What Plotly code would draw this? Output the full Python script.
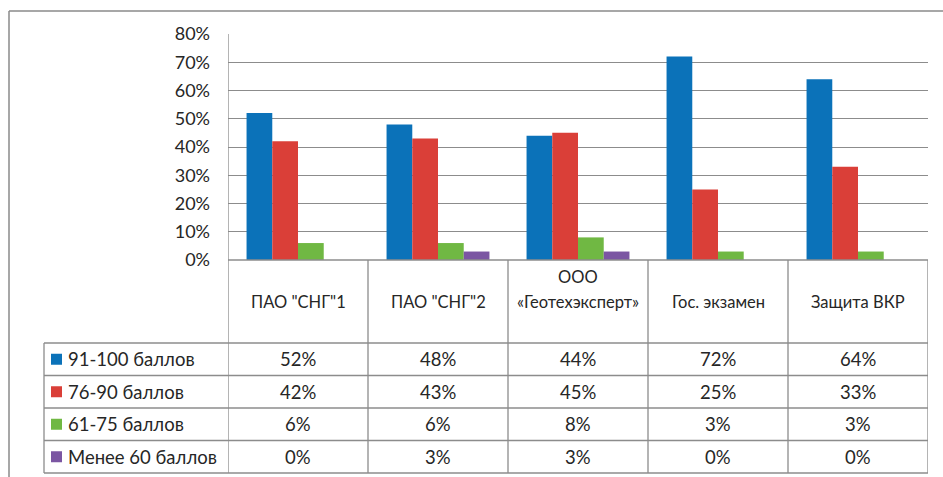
import plotly.graph_objects as go

categories = ['ПАО "СНГ"1', 'ПАО "СНГ"2', 'ООО\n«Геотехэксперт»', 'Гос. экзамен', 'Защита ВКР']
series_names = ['91-100 баллов', '76-90 баллов', '61-75 баллов', 'Менее 60 баллов']
s1 = [52, 48, 44, 72, 64]
s2 = [42, 43, 45, 25, 33]
s3 = [6, 6, 8, 3, 3]
s4 = [0, 3, 3, 0, 0]
series_values = [s1, s2, s3, s4]
colors = ['#0B72B9', '#DA3F38', '#70B843', '#7B56A2']
y_ticks = [0, 10, 20, 30, 40, 50, 60, 70, 80]

W, H = 943, 477
L, R, T, B = 228, 15, 34, 217
PW, PH = W - L - R, H - T - B
FONT = 'Lato, Carlito, Calibri, sans-serif'
LINE = '#8c8c8c'
TXT = '#262626'


def px(xp):
    return (xp - L) / PW


def py(yp):
    return (T + PH - yp) / PH


fig = go.Figure()
for name, vals, col in zip(series_names, series_values, colors):
    fig.add_trace(go.Bar(x=list(range(len(categories))), y=vals, name=name,
                         marker=dict(color=col, line=dict(width=0))))

shapes = []
annotations = []
n = len(categories)
header_bottom = 343
row_h = 32.5
table_bottom = header_bottom + row_h * len(series_names)
legend_left = 44

# outer frame
shapes.append(dict(type='line', xref='paper', yref='paper', x0=px(9), x1=px(W + 5), y0=py(11), y1=py(11),
                   line=dict(color='#8a8a8a', width=1.5)))
shapes.append(dict(type='line', xref='paper', yref='paper', x0=px(9), x1=px(9), y0=py(11), y1=py(H + 5),
                   line=dict(color='#8a8a8a', width=1.5)))

# table vertical lines
for i in range(n + 1):
    x = i - 0.5
    y_top = py(T) if i == 0 else 0
    shapes.append(dict(type='line', xref='x', yref='paper', x0=x, x1=x, y0=y_top, y1=py(table_bottom),
                       line=dict(color=LINE, width=1.3)))
shapes.append(dict(type='line', xref='paper', yref='paper', x0=px(legend_left), x1=px(legend_left),
                   y0=py(header_bottom), y1=py(table_bottom), line=dict(color=LINE, width=1.3)))
# table horizontal lines
shapes.append(dict(type='line', xref='paper', yref='paper', x0=0, x1=1, y0=0, y1=0,
                   line=dict(color=LINE, width=1.3)))
for r in range(len(series_names) + 1):
    yy = header_bottom + r * row_h
    shapes.append(dict(type='line', xref='paper', yref='paper', x0=px(legend_left), x1=1, y0=py(yy), y1=py(yy),
                       line=dict(color=LINE, width=1.3)))

# category headers
for i, cat in enumerate(categories):
    lines = cat.split('\n')
    base = 302
    for k, ln in enumerate(lines):
        yy = base - 25 * (len(lines) - 1 - k)
        annotations.append(dict(x=i, y=py(yy), xref='x', yref='paper', text=ln, showarrow=False,
                                font=dict(family=FONT, size=16.5, color=TXT), xanchor='center', yanchor='middle'))

# rows
for r, (name, vals, col) in enumerate(zip(series_names, series_values, colors)):
    yc = header_bottom + r * row_h + row_h / 2
    shapes.append(dict(type='rect', xref='paper', yref='paper', x0=px(51), x1=px(62), y0=py(yc - 5.5), y1=py(yc + 5.5),
                       fillcolor=col, line=dict(width=0)))
    annotations.append(dict(x=px(66), y=py(yc), xref='paper', yref='paper', text=name, showarrow=False,
                            font=dict(family=FONT, size=18.5, color=TXT), xanchor='left', yanchor='middle'))
    for i, v in enumerate(vals):
        annotations.append(dict(x=i, y=py(yc), xref='x', yref='paper', text=f'{v}%', showarrow=False,
                                font=dict(family=FONT, size=18.5, color=TXT), xanchor='center', yanchor='middle'))

fig.update_layout(
    width=W, height=H,
    margin=dict(l=L, r=R, t=T, b=B, pad=0),
    paper_bgcolor='white', plot_bgcolor='white',
    barmode='group', bargap=0.265, bargroupgap=0,
    showlegend=False,
    shapes=shapes, annotations=annotations,
    xaxis=dict(range=[-0.5, n - 0.5], showticklabels=False, showgrid=False, zeroline=False,
               showline=False, ticks=''),
    yaxis=dict(range=[0, 80], tickvals=y_ticks, ticktext=[f'{t}%' for t in y_ticks],
               showgrid=True, gridcolor=LINE, gridwidth=1.3, zeroline=False, showline=False,
               ticks='', ticklabelstandoff=17,
               tickfont=dict(family=FONT, size=18, color=TXT)),
)

fig.write_html('out.html')
